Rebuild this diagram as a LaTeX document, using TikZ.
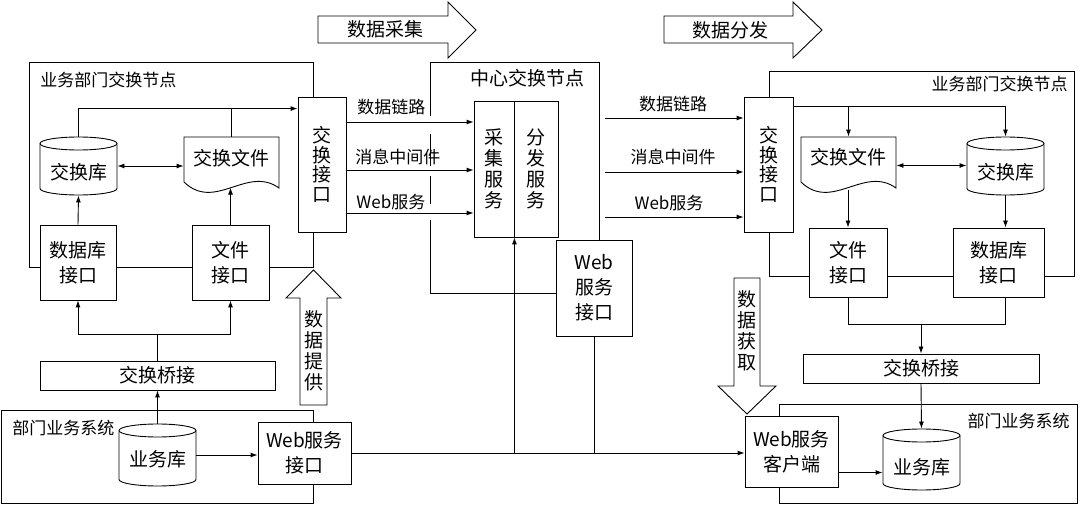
\documentclass[tikz,border=0pt]{standalone}
\usepackage{fontspec}
\setmainfont{Noto Sans CJK SC}
\usetikzlibrary{arrows.meta,calc}
\newcommand\myfs[2]{\fontsize{#1}{#2}\selectfont}
% cylinder outline: centre x, centre y, height (width 77)
\newcommand\drawcyl[3]{%
  \draw[fill=white] (#1-38.5,#2-#3/2+6.5) -- (#1-38.5,#2+#3/2-6.5)
    arc[start angle=180,end angle=360,x radius=38.5pt,y radius=6.5pt]
    -- (#1+38.5,#2-#3/2+6.5)
    arc[start angle=0,end angle=180,x radius=38.5pt,y radius=6.5pt] -- cycle;
  \draw (#1-38.5,#2-#3/2+6.5) arc[start angle=180,end angle=360,x radius=38.5pt,y radius=6.5pt];}
% document outline: left x, top y, right x, right-bottom y
\newcommand\drawdoc[4]{%
  \draw[fill=white] (#1,#2) -- (#3,#2) -- (#3,#4)
    .. controls (#3-32,#4-23) and (#1+31,#4+24) .. (#1,#4-6) -- cycle;}
\begin{document}
\begin{tikzpicture}[x=1pt,y=-1pt,line width=0.9pt,
  >={Latex[length=7pt,width=5pt]},
  every node/.style={inner sep=0pt,font=\myfs{19}{21}},
  box/.style={draw,fill=white,align=center},
  lbl/.style={font=\myfs{17}{20}},
  vtxt/.style={align=center,font=\myfs{19}{19.5}},
  vtxtb/.style={align=center,font=\myfs{19}{21}},
  two/.style={align=center,font=\myfs{19}{25}}]
\useasboundingbox (0,0) rectangle (1080,505);
\fill[white] (0,0) rectangle (1080,505);
% frames
\draw (29,62) rectangle (313,267);
\draw (430,62) rectangle (599,293);
\draw (769,71) rectangle (1074,276);
\draw (1,410) rectangle (313,503);
\draw (779,404) rectangle (1077,503);
\fill[white] (426,116) rectangle (434,134);
\fill[white] (426,166) rectangle (434,176);
\fill[white] (426,204) rectangle (434,220);
% frame labels
\node[lbl,anchor=west] (lbA) at (40,80) {业务部门交换节点};
\node (lbB) at (527,78) {中心交换节点};
\node[lbl,anchor=east] (lbC) at (1068,84) {业务部门交换节点};
\node[lbl,anchor=west] (lbD) at (12,428) {部门业务系统};
\node[lbl,anchor=east] (lbE) at (1070,421) {部门业务系统};
% block arrows
\draw (318,16) -- (448,16) -- (448,2) -- (476,30) -- (448,58) -- (448,43) -- (318,43) -- cycle;
\node (baA) at (385,29) {数据采集};
\draw (664,16) -- (793,16) -- (793,2) -- (822,30) -- (793,58) -- (793,43) -- (664,43) -- cycle;
\node (baB) at (730,30) {数据分发};
\draw (300,405) -- (300,298) -- (286,298) -- (313.5,270) -- (341,298) -- (327,298) -- (327,405) -- cycle;
\node[vtxtb] (baC) at (313.5,351) {数\\据\\提\\供};
\draw (734,278) -- (760,278) -- (760,386) -- (776,386) -- (747,414) -- (718,386) -- (734,386) -- cycle;
\node[vtxtb] (baD) at (747,331) {数\\据\\获\\取};
% left exchange node
\node[box,vtxt,minimum width=48pt,minimum height=135pt] (xjl) at (322,164.5) {交\\换\\接\\口};
\drawcyl{78.5}{166}{58}
\node[minimum width=77pt,minimum height=58pt,label={[yshift=-6pt]center:交换库}] (jkl) at (78.5,166) {};
\drawdoc{184}{137}{279}{188}
\node[minimum width=95pt,minimum height=56pt,label={[yshift=7pt]center:交换文件}] (wjl) at (231.5,165) {};
\node[box,two,minimum width=76pt,minimum height=75pt] (dbl) at (78,262.5) {数据库\\接口};
\node[box,two,minimum width=77pt,minimum height=75pt] (fil) at (230.5,262.5) {文件\\接口};
\node[box,minimum width=235pt,minimum height=29pt] (qjl) at (157.5,375.5) {交换桥接};
\drawcyl{157.5}{455}{62}
\node[minimum width=77pt,minimum height=62pt,label={[yshift=-4pt]center:业务库}] (ywl) at (157.5,455) {};
\node[box,two,minimum width=93pt,minimum height=62pt] (wsl) at (304.5,453) {Web服务\\接口};
% centre
\node[box,vtxtb,minimum width=40pt,minimum height=136pt] (cj) at (494,169) {采\\集\\服\\务};
\node[box,vtxtb,minimum width=44pt,minimum height=136pt] (ff) at (536,169) {分\\发\\服\\务};
\node[box,two,minimum width=76pt,minimum height=96pt] (wsc2) at (594,288) {Web\\服务\\接口};
% right exchange node
\node[box,vtxt,minimum width=49pt,minimum height=135pt] (xjr) at (768.5,164.5) {交\\换\\接\\口};
\drawdoc{801}{137}{896}{188}
\node[minimum width=95pt,minimum height=57pt,label={[yshift=8pt]center:交换文件}] (wjr) at (848.5,165.5) {};
\drawcyl{1005.5}{166}{58}
\node[minimum width=77pt,minimum height=58pt,label={[yshift=-6pt]center:交换库}] (jkr) at (1005.5,166) {};
\node[box,two,minimum width=78pt,minimum height=69pt] (fir) at (848,262.5) {文件\\接口};
\node[box,two,minimum width=91pt,minimum height=69pt] (dbr) at (998.5,262.5) {数据库\\接口};
\node[box,minimum width=236pt,minimum height=29pt] (qjr) at (921,368.5) {交换桥接};
\drawcyl{921.5}{459.5}{61}
\node[minimum width=77pt,minimum height=61pt,label={[yshift=-8pt]center:业务库}] (ywr) at (921.5,459.5) {};
\node[box,two,minimum width=93pt,minimum height=71pt] (wsc) at (791.5,451.5) {Web服务\\客户端};
% left connectors
\draw[->] (jkl.north) |- ([yshift=-12pt]xjl.north west);
\draw (wjl.north) -- ++(0pt,28pt);
\draw[<->] (jkl.east) -- (jkl.east -| wjl.west);
\draw[->] (dbl.north) -- (jkl.south);
\draw[->] (fil.north) -- ++(0pt,37pt);
\draw[->] (qjl.north) -- ++(0pt,26pt) -| (dbl.south);
\draw[->] (qjl.north) ++(0pt,26pt) -| (fil.south);
\draw[->] (ywl.north) -- (ywl.north |- qjl.south);
\draw[->] (ywl.east) -- (ywl.east -| wsl.west);
% centre connectors
\draw[->] ([yshift=42.5pt]xjl.east) -- ([yshift=42.5pt]xjl.east -| cj.west);
\draw[->] ([yshift=-5.5pt]xjl.east) -- ([yshift=-5.5pt]xjl.east -| cj.west);
\draw[->] ([yshift=-48.5pt]xjl.east) -- ([yshift=-48.5pt]xjl.east -| cj.west);
\node[lbl,anchor=west] (laA) at (357,107) {数据链路};
\node[lbl,anchor=west] (laB) at (355,157) {消息中间件};
\node[lbl,anchor=west] (laC) at (356,202) {Web服务};
\coordinate (rA) at (605,118);
\coordinate (rB) at (605,172);
\coordinate (rC) at (605,217);
\draw[->] (rA) -- (rA -| xjr.west);
\draw[->] (rB) -- (rB -| xjr.west);
\draw[->] (rC) -- (rC -| xjr.west);
\node[lbl] (lbF) at (673,104) {数据链路};
\node[lbl] (lbG) at (673,157) {消息中间件};
\node[lbl] (lbH) at (669,203) {Web服务};
\draw[->] (wsl.east) -- (wsl.east -| wsc.west);
\draw (wsc2.south) -- (wsc2.south |- wsl.east);
\draw[->] (cj.south east |- wsl.east) -- (cj.south east);
% right connectors
\draw[->] ([yshift=58.5pt]xjr.east) -| (jkr.north);
\draw[->] ([yshift=58.5pt]xjr.east -| wjr.north) -- (wjr.north);
\draw[<->] (wjr.east) -- (wjr.east -| jkr.west);
\draw[->] ([yshift=38pt]fir.north) -- (fir.north);
\draw[->] (jkr.south) -- (jkr.south |- dbr.north);
\draw (fir.south) -- ++(0pt,-27pt) -| (jkr.south |- dbr.south);
\draw[->] (qjr.north) ++(0pt,30pt) -- (qjr.north);
\draw[->] (qjr.south) -- (ywr.north);
\draw[->] ([yshift=-21pt]wsc.east) -- ([yshift=-21pt]wsc.east -| ywr.west);
\end{tikzpicture}
\end{document}
